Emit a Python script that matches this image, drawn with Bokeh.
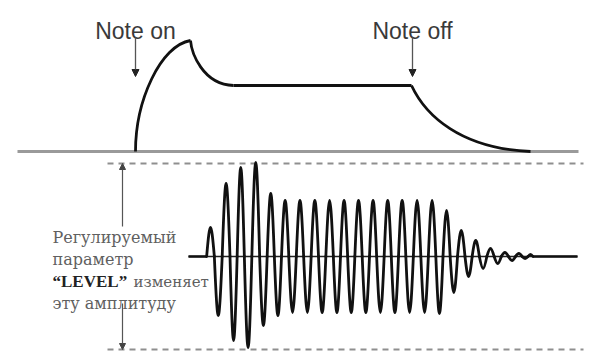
from bokeh.plotting import figure
from bokeh.models import Range1d, Arrow, NormalHead
from bokeh.core.properties import value
from bokeh.embed import file_html
from bokeh.resources import INLINE

# ---------------- data (diagram units: x = time, y = vertical position, down = larger) ----
# Upper panel: ADSR envelope
baseline_y = 151
baseline_x = [17, 578]
env_x = [135, 190, 233, 411, 530]          # note on, attack peak, sustain start, note off, end
env_y = [151, 40, 85, 85, 151]
# cubic shape handles for attack, decay, release
curve_c0x = [135, 191, 425]
curve_c0y = [100, 52, 115]
curve_c1x = [160, 202, 460]
curve_c1y = [45, 84, 148]

event_labels = ["Note on", "Note off"]
event_x = [135, 412]

# Lower panel: waveform, extremes (x, signed amplitude)
wave_center = 256
wave_line_x = [188, 577]
wave_x = [210, 217.7, 225.7, 233.3, 240, 247.7, 255, 263.3, 270, 277.7, 284.3, 292.3,
          299.3, 307, 314.3, 321.7, 329, 336.7, 343.3, 351, 357.7, 365.7, 372.3, 380,
          387.3, 394.3, 401.7, 409, 416.7, 424, 431.7, 439, 446, 453.3, 460.7, 468.3,
          475, 482.7, 490, 497.3, 504.3, 511.7, 518.3, 525, 530]
wave_amp = [29, -59, 73, -84, 89, -91, 94, -69, 63, -59, 56, -56,
            56, -56, 56, -56, 56, -56, 56, -56, 56, -56, 56, -56,
            56, -56, 56, -56, 56, -56, 56, -57, 46, -36, 26, -20,
            16, -12, 8, -7, 4, -4, 3, -2, 2]

level_top, level_bottom = 163, 349
level_x = [107, 583]
level_arrow_x = 122
level_gap = [226, 303]

label_lines = ["Регулируемый", "параметр", "эту амплитуду"]
label_line_y = [237, 259, 303]
label_bold = "\u201cLEVEL\u201d"
label_rest = "изменяет"
label_line3_y = 281

# ---------------- figure ----------------
p = figure(width=589, height=351, output_backend="svg", toolbar_location=None,
           x_range=Range1d(0, 589), y_range=Range1d(351, 0), min_border=0)
p.axis.visible = False
p.grid.visible = False
p.outline_line_color = None
p.background_fill_color = "white"
p.border_fill_color = "white"

# baseline
p.line(baseline_x, [baseline_y, baseline_y], line_color="#9a9a9a", line_width=3)

# envelope
BLACK = "#111111"
p.bezier(x0=env_x[0:1] + env_x[1:2] + env_x[3:4],
         y0=env_y[0:1] + env_y[1:2] + env_y[3:4],
         x1=env_x[1:2] + env_x[2:3] + env_x[4:5],
         y1=env_y[1:2] + env_y[2:3] + env_y[4:5],
         cx0=curve_c0x, cy0=curve_c0y, cx1=curve_c1x, cy1=curve_c1y,
         line_color=BLACK, line_width=2.8)
p.line(env_x[2:4], env_y[2:4], line_color=BLACK, line_width=3.2)

# event labels and arrows
p.text(x=event_x, y=[30, 30], text=event_labels, text_align="center",
       text_baseline="alphabetic", text_font=value("Liberation Sans"),
       text_font_size="23px", text_color="#3a3a3a")
for ex in event_x:
    p.add_layout(Arrow(end=NormalHead(size=7, fill_color="#222222", line_color="#222222"),
                       x_start=ex, y_start=37, x_end=ex, y_end=76,
                       line_color="#555555", line_width=1.3))

# dashed level lines
for ly in (level_top, level_bottom):
    p.line(level_x, [ly, ly], line_color="#8f8f8f", line_width=2, line_dash="6 5")

# level double arrow
p.add_layout(Arrow(end=NormalHead(size=6, fill_color="#444444", line_color="#444444"),
                   x_start=level_arrow_x, y_start=level_gap[0], x_end=level_arrow_x, y_end=level_top,
                   line_color="#555555", line_width=1.2))
p.add_layout(Arrow(end=NormalHead(size=6, fill_color="#444444", line_color="#444444"),
                   x_start=level_arrow_x, y_start=level_gap[1], x_end=level_arrow_x, y_end=level_bottom,
                   line_color="#555555", line_width=1.2))

# label text
p.text(x=[52] * len(label_lines), y=label_line_y, text=label_lines,
       text_baseline="alphabetic", text_font=value("DejaVu Serif"),
       text_font_size="16px", text_color="#606060")
p.text(x=[52], y=[label_line3_y], text=[label_bold], text_baseline="alphabetic",
       text_font=value("Liberation Serif"), text_font_style="bold",
       text_font_size="17px", text_color="#222222")
p.text(x=[133], y=[label_line3_y], text=[label_rest], text_baseline="alphabetic",
       text_font=value("DejaVu Serif"), text_font_size="15px", text_color="#606060")

# waveform center line
p.line(wave_line_x, [wave_center, wave_center], line_color="#222222", line_width=1.6)

# waveform half-waves (sine-like cubic arcs between zero crossings)
n = len(wave_x)
zc = [wave_x[0] - (wave_x[1] - wave_x[0]) / 2]
for i in range(n - 1):
    zc.append((wave_x[i] + wave_x[i + 1]) / 2)
zc.append(wave_x[-1] + (wave_x[-1] - wave_x[-2]) / 2)
k = 0.4244
x0s, x1s = zc[:-1], zc[1:]
p.bezier(x0=x0s, y0=[wave_center] * n, x1=x1s, y1=[wave_center] * n,
         cx0=[a + k * (b - a) for a, b in zip(x0s, x1s)],
         cy0=[wave_center - 4 / 3 * a for a in wave_amp],
         cx1=[b - k * (b - a) for a, b in zip(x0s, x1s)],
         cy1=[wave_center - 4 / 3 * a for a in wave_amp],
         line_color=BLACK, line_width=2.8, line_cap="round")
p.line([wave_line_x[0], zc[0]], [wave_center, wave_center], line_color=BLACK, line_width=2.6)
p.line([zc[-1], wave_line_x[1]], [wave_center, wave_center], line_color=BLACK, line_width=2.6)

open("out.html", "w").write(file_html(p, INLINE))
